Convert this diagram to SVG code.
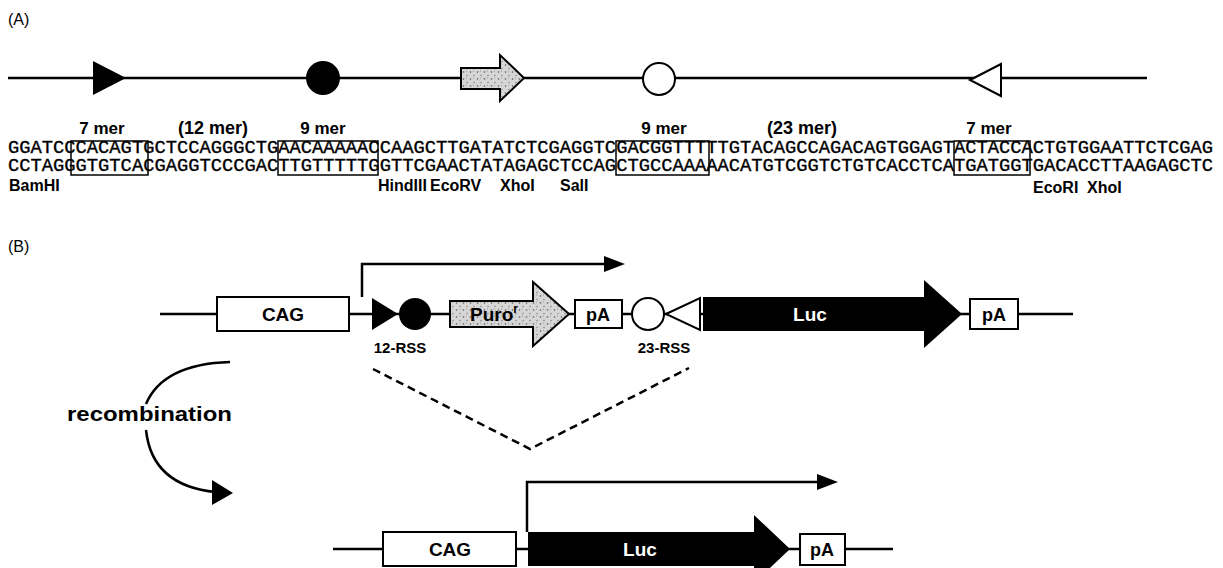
<svg xmlns="http://www.w3.org/2000/svg" width="1223" height="568" viewBox="0 0 1223 568">
<defs>
<style>
.lbl{font-family:"Liberation Sans",Arial,Helvetica,sans-serif;font-weight:bold;fill:#000}
.reg{font-family:"Liberation Sans",Arial,Helvetica,sans-serif;fill:#000}
.seq{font-family:"Liberation Mono","Courier New",monospace;font-size:18px;fill:#000;stroke:#000;stroke-width:0.35}
.ln{stroke:#000;stroke-width:2.5;fill:none}
.box{fill:#fff;stroke:#000;stroke-width:2}
.sbox{fill:none;stroke:#000;stroke-width:1.5}
.dash{stroke:#000;stroke-width:2.5;fill:none;stroke-dasharray:8 5}
.blk{fill:#000}
.wht{fill:#fff;stroke:#000;stroke-width:2}
</style>
<pattern id="stip" width="7" height="7" patternUnits="userSpaceOnUse">
<rect width="7" height="7" fill="#d6d6d6"/>
<circle cx="1.5" cy="2" r="0.8" fill="#555"/>
<circle cx="5" cy="5.5" r="0.7" fill="#777"/>
<circle cx="4.5" cy="1" r="0.5" fill="#888"/>
</pattern>
</defs>
<rect width="1223" height="568" fill="#fff"/>

<g id="connectors">
<line class="ln" x1="8" y1="78" x2="1147" y2="78"/>
<line class="ln" x1="160" y1="314" x2="1073" y2="314"/>
<line class="ln" x1="333" y1="549" x2="893" y2="549"/>
<path class="ln" d="M362,297 V264 H607"/>
<polygon class="blk" points="604,256 625,264 604,272"/>
<path class="ln" d="M527,532 V482 H820"/>
<polygon class="blk" points="817,474 838,482 817,490"/>
<path class="dash" d="M373,369 L530,449 L689,368"/>
<path class="ln" d="M230,362 Q163,364 146,404"/>
<path class="ln" d="M146,430 Q152,486 216,492"/>
<polygon class="blk" points="212,480 233,493 212,505"/>
</g>

<g id="label-A"><text class="reg" x="8" y="25" font-size="16">(A)</text></g>
<g id="label-B"><text class="reg" x="8" y="252" font-size="16">(B)</text></g>

<g id="a-hept1"><polygon class="blk" points="93,61 93,95 126,78"/></g>
<g id="a-non1"><circle class="blk" cx="323" cy="78" r="17"/></g>
<g id="a-gene"><polygon fill="url(#stip)" stroke="#000" stroke-width="2" points="461,68 500,68 500,55 524,78 500,101 500,89 461,89"/></g>
<g id="a-non2"><circle class="wht" cx="659" cy="79" r="16"/></g>
<g id="a-hept2"><polygon class="wht" points="970,80 1001,64 1001,96"/></g>

<g id="mer-labels">
<text class="lbl" x="102" y="134" font-size="17" text-anchor="middle">7 mer</text>
<text class="lbl" x="213" y="134" font-size="18" text-anchor="middle">(12 mer)</text>
<text class="lbl" x="323" y="134" font-size="17" text-anchor="middle">9 mer</text>
<text class="lbl" x="664" y="134" font-size="17" text-anchor="middle">9 mer</text>
<text class="lbl" x="802" y="134" font-size="18" text-anchor="middle">(23 mer)</text>
<text class="lbl" x="989" y="134" font-size="17" text-anchor="middle">7 mer</text>
</g>

<g id="sequence">
<text class="seq" x="8" y="153" textLength="1205" lengthAdjust="spacingAndGlyphs">GGATCCCACAGTGCTCCAGGGCTGAACAAAAACCAAGCTTGATATCTCGAGGTCGACGGTTTTTGTACAGCCAGACAGTGGAGTACTACCACTGTGGAATTCTCGAG</text>
<text class="seq" x="8" y="171" textLength="1205" lengthAdjust="spacingAndGlyphs">CCTAGGGTGTCACGAGGTCCCGACTTGTTTTTGGTTCGAACTATAGAGCTCCAGCTGCCAAAAACATGTCGGTCTGTCACCTCATGATGGTGACACCTTAAGAGCTC</text>
<rect class="sbox" x="71" y="141" width="77" height="34"/>
<rect class="sbox" x="278" y="141" width="100" height="34"/>
<rect class="sbox" x="616" y="141" width="93" height="34"/>
<rect class="sbox" x="954" y="141" width="76" height="34"/>
</g>

<g id="sites">
<text class="lbl" x="9" y="191" font-size="16">BamHI</text>
<text class="lbl" x="378" y="191" font-size="16">HindIII</text>
<text class="lbl" x="430" y="191" font-size="16">EcoRV</text>
<text class="lbl" x="500" y="191" font-size="16">XhoI</text>
<text class="lbl" x="560" y="191" font-size="16">SalI</text>
<text class="lbl" x="1033" y="193" font-size="16">EcoRI</text>
<text class="lbl" x="1087" y="193" font-size="16">XhoI</text>
</g>

<g id="cag1"><rect class="box" x="217" y="297" width="132" height="34"/><text class="lbl" x="283" y="321" font-size="19" text-anchor="middle">CAG</text></g>
<g id="rss12">
<polygon class="blk" points="372,298 372,330 398,314"/>
<circle class="blk" cx="415" cy="314" r="16"/>
<text class="lbl" x="400" y="353" font-size="15" text-anchor="middle">12-RSS</text>
</g>
<g id="puro"><polygon fill="url(#stip)" stroke="#000" stroke-width="2" points="450,301 533,301 533,282 569,314 533,346 533,327 450,327"/><text class="lbl" x="494" y="321" font-size="19" text-anchor="middle">Puro<tspan font-size="12" dy="-8">r</tspan></text></g>
<g id="pa1"><rect class="box" x="575" y="300" width="47" height="28"/><text class="lbl" x="598" y="321" font-size="18" text-anchor="middle">pA</text></g>
<g id="rss23">
<circle class="wht" cx="648" cy="314" r="16"/>
<polygon class="wht" points="666,314 700,298 700,330"/>
<text class="lbl" x="664" y="353" font-size="15" text-anchor="middle">23-RSS</text>
</g>
<g id="luc1"><polygon class="blk" points="703,297 924,297 924,280 962,314 924,348 924,331 703,331"/><text class="lbl" x="810" y="321" font-size="19" style="fill:#fff" text-anchor="middle">Luc</text></g>
<g id="pa2"><rect class="box" x="970" y="299" width="48" height="30"/><text class="lbl" x="994" y="321" font-size="18" text-anchor="middle">pA</text></g>

<g id="recombination"><text class="lbl" x="67" y="421" font-size="20" textLength="165" lengthAdjust="spacingAndGlyphs">recombination</text></g>

<g id="cag2"><rect class="box" x="383" y="532" width="133" height="34"/><text class="lbl" x="450" y="556" font-size="19" text-anchor="middle">CAG</text></g>
<g id="luc2"><polygon class="blk" points="528,532 754,532 754,515 790,549 754,583 754,566 528,566"/><text class="lbl" x="640" y="556" font-size="19" style="fill:#fff" text-anchor="middle">Luc</text></g>
<g id="pa3"><rect class="box" x="800" y="534" width="45" height="31"/><text class="lbl" x="822" y="556" font-size="18" text-anchor="middle">pA</text></g>
</svg>
